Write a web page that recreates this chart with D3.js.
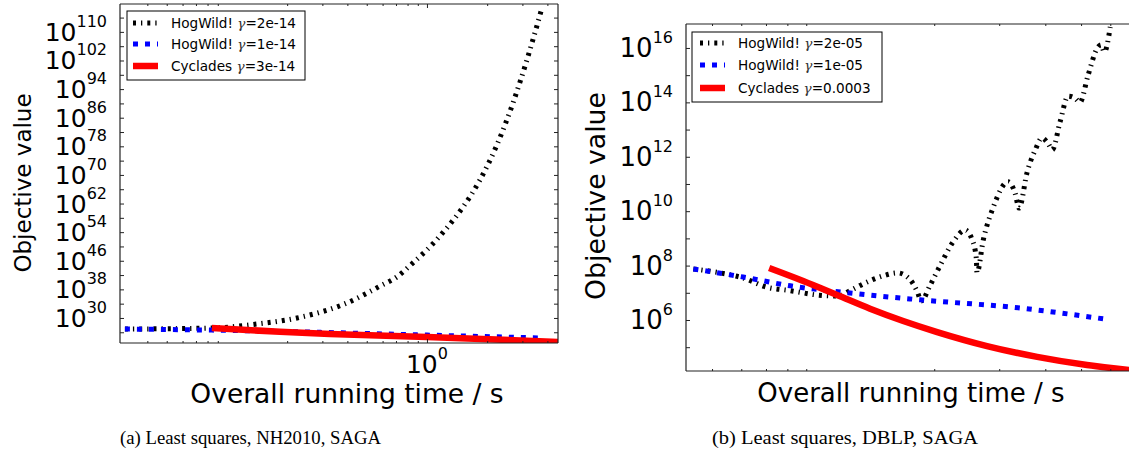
<!DOCTYPE html>
<html><head><meta charset="utf-8">
<script src="https://cdn.jsdelivr.net/npm/d3@7"></script>
<style>body{margin:0;background:#fff} svg{display:block} text{font-family:"DejaVu Sans";fill:#000}</style>
</head><body><svg id="c" width="1129" height="459"></svg>
<script>
// ---------- Panel (a): Least squares, NH2010, SAGA ----------
const aHogFastT = [0.0309, 0.0851, 0.141, 0.224, 0.398, 0.582, 0.708, 0.851, 1.035, 1.259, 1.514, 1.841, 2.238, 2.692, 3.162, 3.758];
const aHogFastV = [7.9e26, 1.6e27, 2.0e28, 1.0e30, 1.6e34, 7.9e38, 3.2e41, 2.5e45, 7.9e49, 1.6e55, 1.0e61, 4.0e68, 2.5e78, 1.3e90, 1.6e102, 5.0e116];
const aHogSlowT = [0.0309, 0.0841, 0.232, 1.0, 3.80];
const aHogSlowV = [7.9e26, 4.0e26, 1.3e26, 1.6e25, 2.5e24];
const aCycT = [0.0841, 0.184, 0.327, 1.0, 4.52];
const aCycV = [1.6e27, 1.3e26, 3.2e25, 5.0e24, 2.0e23];
const aLegend = ["2e-14", "1e-14", "3e-14"];
const aXMinor = [0.04, 0.05, 0.06, 0.07, 0.08, 0.09, 0.2, 0.3, 0.4, 0.5, 0.6, 0.7, 0.8, 0.9, 2, 3, 4];
const aXMajor = [1];
const aXLabelExp = [0];
const aYTickExp = [26, 30, 34, 38, 42, 46, 50, 54, 58, 62, 66, 70, 74, 78, 82, 86, 90, 94, 98, 102, 106, 110, 114];
const aYLabelExp = [30, 38, 46, 54, 62, 70, 78, 86, 94, 102, 110];

// ---------- Panel (b): Least squares, DBLP, SAGA ----------
const bHogFastT = [0.445,0.526,0.607,0.705,0.815,0.964,1.091,1.183,1.30,1.455,1.589,1.722,1.799,1.845,1.950,2.075,2.249,2.427,2.535,2.600,2.612,2.716,2.891,3.170,3.311,3.396,3.573,3.758,3.917,4.074,4.178,4.385,4.613,4.819,4.966,5.224,5.534,5.662,5.781,5.998];
const bHogFastV = [7.5e7,5.4e7,3.5e7,1.6e7,1.2e7,8.3e6,7.6e6,1.2e7,2.3e7,4.2e7,5.4e7,3.0e7,1.1e7,5.0e6,1.9e7,1.0e8,7.4e8,2.0e9,8.7e8,1.9e8,5.4e7,8.7e8,1.4e10,1.2e11,4.7e10,1.3e10,2.8e11,1.8e12,4.9e12,3.0e12,1.8e12,1.9e13,1.7e14,1.4e14,1.0e14,1.0e15,1.0e16,1.3e16,7.1e15,5.9e16];
const bHogSlowT = [0.445, 0.607, 0.815, 1.183, 1.832, 3.420, 5.741];
const bHogSlowV = [7.5e7, 3.8e7, 1.8e7, 9.8e6, 5.5e6, 2.75e6, 1.1e6];
const bCycT = [0.714, 0.883, 1.091, 1.340, 1.648, 2.037, 2.780, 3.802, 5.188, 6.745];
const bCycV = [8.1e7, 2.7e7, 8.3e6, 2.6e6, 9.2e5, 3.6e5, 1.1e5, 4.4e4, 2.2e4, 1.45e4];
const bLegend = ["2e-05", "1e-05", "0.0003"];
const bXMinor = [0.5, 0.6, 0.7, 0.8, 0.9, 2, 3, 4, 5, 6];
const bYTickExp = [5, 6, 7, 8, 9, 10, 11, 12, 13, 14, 15, 16];
const bYLabelExp = [6, 8, 10, 12, 14, 16];

const names = ["HogWild! ", "HogWild! ", "Cyclades "];
const captions = ["(a)  Least squares, NH2010, SAGA", "(b)  Least squares, DBLP, SAGA"];

const styles = [
  {stroke: "#000", width: 5, dash: "3,5,1.3,5"},
  {stroke: "#0000ff", width: 5, dash: "5,7"},
  {stroke: "#ff0000", width: 6.5, dash: null}
];

const svg = d3.select("#c");

function panel(cfg) {
  const {x0, x1, y0, y1, xDom, yDom, id} = cfg;
  const x = d3.scaleLog().domain(xDom).range([x0, x1]);
  const y = d3.scaleLog().domain(yDom).range([y1, y0]);
  const g = svg.append("g");
  g.append("clipPath").attr("id", id).append("rect")
    .attr("x", x0).attr("y", y0).attr("width", x1 - x0).attr("height", y1 - y0);

  const line = d3.line().x(d => x(d[0])).y(d => y(d[1])).curve(d3.curveMonotoneX);
  cfg.series.forEach((s, i) => {
    const pts = s.t.map((t, k) => [t, s.v[k]]);
    const p = g.append("path").attr("d", line(pts)).attr("fill", "none")
      .attr("clip-path", `url(#${id})`)
      .attr("stroke", styles[i].stroke).attr("stroke-width", styles[i].width)
      .attr("stroke-linecap", "butt").attr("stroke-linejoin", "round");
    if (styles[i].dash) p.attr("stroke-dasharray", styles[i].dash);
  });

  const noLab = a => a.tickFormat("").tickSizeOuter(0);
  const yVals = cfg.yTickExp.map(e => Math.pow(10, e));
  g.append("g").attr("transform", `translate(${x0},0)`).call(noLab(d3.axisLeft(y).tickValues(yVals).tickSize(-4)));
  if (cfg.rightSpine) g.append("g").attr("transform", `translate(${x1},0)`).call(noLab(d3.axisRight(y).tickValues(yVals).tickSize(-4)));
  g.append("g").attr("transform", `translate(0,${y1})`).call(noLab(d3.axisBottom(x).tickValues(cfg.xMinor).tickSize(-2)));
  g.append("g").attr("transform", `translate(0,${y0})`).call(noLab(d3.axisTop(x).tickValues(cfg.xMinor).tickSize(-2)));
  if (cfg.xMajor.length) {
    g.append("g").attr("transform", `translate(0,${y1})`).call(noLab(d3.axisBottom(x).tickValues(cfg.xMajor).tickSize(-4)));
    g.append("g").attr("transform", `translate(0,${y0})`).call(noLab(d3.axisTop(x).tickValues(cfg.xMajor).tickSize(-4)));
  }
  g.selectAll(".domain").remove();
  g.selectAll(".tick line").attr("stroke", "#222").attr("stroke-width", 1);

  const sp = g.append("g").attr("stroke", "#222").attr("stroke-width", 1.2).attr("fill", "none");
  sp.append("line").attr("x1", x0).attr("x2", x0).attr("y1", y0).attr("y2", y1);
  sp.append("line").attr("x1", x0).attr("x2", x1).attr("y1", y0).attr("y2", y0);
  sp.append("line").attr("x1", x0).attr("x2", x1).attr("y1", y1).attr("y2", y1);
  if (cfg.rightSpine) sp.append("line").attr("x1", x1).attr("x2", x1).attr("y1", y0).attr("y2", y1);

  cfg.yLabelExp.forEach(e => {
    const t = g.append("text").attr("x", x0 - 13).attr("y", y(Math.pow(10, e)) + 9)
      .attr("text-anchor", "end").style("font-size", cfg.tickFont + "px");
    t.append("tspan").text("10");
    t.append("tspan").attr("dy", -14).style("font-size", cfg.supFont + "px").text(e);
  });
  (cfg.xLabelExp || []).forEach(e => {
    const t = g.append("text").attr("x", x(Math.pow(10, e))).attr("y", y1 + 30)
      .attr("text-anchor", "middle").style("font-size", cfg.tickFont + "px");
    t.append("tspan").text("10");
    t.append("tspan").attr("dy", -14).style("font-size", cfg.supFont + "px").text(e);
  });

  g.append("text").attr("x", cfg.xlab[0]).attr("y", cfg.xlab[1]).attr("text-anchor", "middle")
    .style("font-size", cfg.xlab[2] + "px").text("Overall running time / s");
  g.append("text").attr("transform", `translate(${cfg.ylab[0]},${cfg.ylab[1]}) rotate(-90)`)
    .attr("text-anchor", "middle").style("font-size", cfg.ylab[2] + "px").text("Objective value");

  const L = cfg.legend;
  g.append("rect").attr("x", L.x).attr("y", L.y).attr("width", L.w).attr("height", L.h)
    .attr("fill", "#fff").attr("stroke", "#000").attr("stroke-width", 1);
  L.rows.forEach((ry, i) => {
    const p = g.append("line").attr("x1", L.sx0).attr("x2", L.sx1).attr("y1", ry).attr("y2", ry)
      .attr("stroke", styles[i].stroke).attr("stroke-width", styles[i].width);
    if (styles[i].dash) p.attr("stroke-dasharray", styles[i].dash);
    const t = g.append("text").attr("x", L.tx).attr("y", ry + 5).style("font-size", "13.6px");
    t.append("tspan").text(names[i]);
    t.append("tspan").style("font-style", "italic").style("font-family", "'DejaVu Serif'").style("fill", "#333").text("γ");
    t.append("tspan").text("=" + cfg.gammas[i]);
  });

  svg.append("text").attr("x", cfg.cap[0]).attr("y", 444).attr("textLength", cfg.cap[1])
    .attr("lengthAdjust", "spacingAndGlyphs")
    .style("font-family", "'Liberation Serif'").style("font-size", "19px").text(cfg.cap[2]);
}

panel({
  id: "ca", x0: 120, x1: 558, y0: 4, y1: 343,
  xDom: [0.0292, 4.52], yDom: [1e23, 6.3e117],
  series: [{t: aHogFastT, v: aHogFastV}, {t: aHogSlowT, v: aHogSlowV}, {t: aCycT, v: aCycV}],
  yTickExp: aYTickExp, yLabelExp: aYLabelExp, xMinor: aXMinor, xMajor: aXMajor, xLabelExp: aXLabelExp,
  rightSpine: true, tickFont: 25, supFont: 16,
  xlab: [347, 403, 26.5], ylab: [31, 183, 23],
  legend: {x: 127, y: 11, w: 178, h: 69, rows: [23, 44, 66], sx0: 133, sx1: 158, tx: 171},
  gammas: aLegend,
  cap: [120, 261, captions[0]]
});

panel({
  id: "cb", x0: 686, x1: 1135, y0: 24, y1: 371,
  xDom: [0.425, 7.0], yDom: [1.333e4, 7.6e16],
  series: [{t: bHogFastT, v: bHogFastV}, {t: bHogSlowT, v: bHogSlowV}, {t: bCycT, v: bCycV}],
  yTickExp: bYTickExp, yLabelExp: bYLabelExp, xMinor: bXMinor, xMajor: [], xLabelExp: [],
  rightSpine: false, tickFont: 26, supFont: 16,
  xlab: [911, 402, 26], ylab: [605, 196, 26.7],
  legend: {x: 692, y: 32, w: 190, h: 70, rows: [43, 65, 88], sx0: 700, sx1: 725, tx: 738},
  gammas: bLegend,
  cap: [712, 266, captions[1]]
});
</script></body></html>
